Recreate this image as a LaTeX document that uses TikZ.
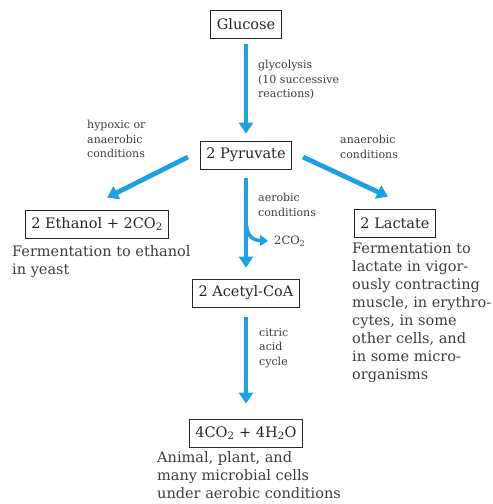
\documentclass[tikz,border=0pt]{standalone}
\usepackage{fontspec}
\setmainfont{DejaVu Serif}
\usetikzlibrary{arrows.meta}
\definecolor{flowblue}{RGB}{30,160,226}
\definecolor{inkgray}{RGB}{60,60,66}
\begin{document}
\begin{tikzpicture}[x=1pt,y=-1pt,
  compound/.style={draw=black!85, line width=0.8pt, inner xsep=6pt, inner ysep=0pt,
    minimum height=28pt, font=\fontsize{14.5}{16}\selectfont, text=black!85},
  note/.style={font=\fontsize{11}{14.5}\selectfont, align=left, text=inkgray,
    anchor=north west, inner sep=0pt},
  desc/.style={font=\fontsize{14.5}{18}\selectfont, align=left, text=inkgray,
    anchor=north west, inner sep=0pt},
  flow/.style={draw=flowblue, line width=4.8pt, -{Triangle[width=14pt,length=11pt]}},
  branch/.style={draw=flowblue, line width=3.5pt, -{Triangle[width=11pt,length=8pt]}},
]
\useasboundingbox (0,0) rectangle (493,504);

% compounds
\node[compound] (glc) at (246,24)  {Glucose};
\node[compound] (pyr) at (246,155) {2 Pyruvate};
\node[compound] (eth) at (97,224)  {2 Ethanol + 2CO\textsubscript{2}};
\node[compound] (lac) at (395,223) {2 Lactate};
\node[compound] (acc) at (246,293) {2 Acetyl-CoA};
\node[compound] (fin) at (246,433) {4CO\textsubscript{2} + 4H\textsubscript{2}O};

% pathway arrows
\draw[flow] ([yshift=-6pt]glc.south) -- ([yshift=7pt]pyr.north);
\draw[flow] ([xshift=-12pt,yshift=-2pt]pyr.west) -- ([xshift=10pt,yshift=12pt]eth.north);
\draw[flow] ([xshift=11pt,yshift=-2pt]pyr.east) -- ([xshift=-7pt,yshift=12pt]lac.north);
\draw[flow] ([yshift=-9pt]pyr.south) -- ([yshift=11pt]acc.north);
\draw[flow] ([yshift=-10pt]acc.south) -- ([yshift=15pt]fin.north);

% CO2 released on the way to acetyl-CoA
\node[font=\fontsize{11.5}{13}\selectfont, text=inkgray, anchor=west, inner sep=0pt]
  (gas) at (274,241) {2CO\textsubscript{2}};
\coordinate (fork) at (246,216);
\draw[branch] (fork) .. controls (246,234) and (250,240) .. ([xshift=-6pt]gas.west);

% arrow labels
\node[note] (lglyc) at (258,60)  {glycolysis\\(10 successive\\reactions)};
\node[note] (lhyp)  at (87,120)  {hypoxic or\\anaerobic\\conditions};
\node[note] (lanae) at (340,135) {anaerobic\\conditions};
\node[note] (laer)  at (258,193) {aerobic\\conditions};
\node[note] (lcit)  at (259,328) {citric\\acid\\cycle};

% organisms
\node[desc] (deth) at (12,245)  {Fermentation to ethanol\\in yeast};
\node[desc] (dlac) at (352,243) {Fermentation to\\lactate in vigor-\\ously contracting\\muscle, in erythro-\\cytes, in some\\other cells, and\\in some micro-\\organisms};
\node[desc] (dfin) at (157,451) {Animal, plant, and\\many microbial cells\\under aerobic conditions};
\end{tikzpicture}
\end{document}
